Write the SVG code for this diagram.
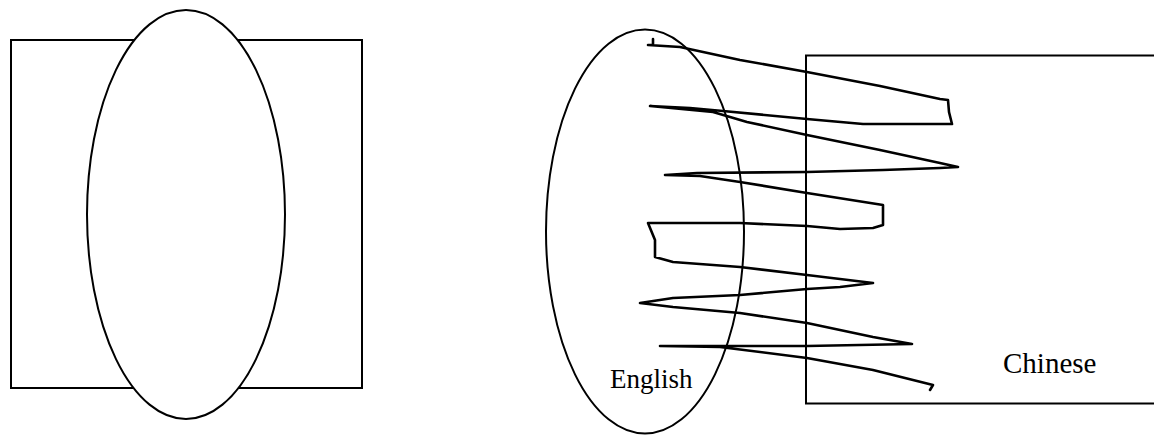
<svg xmlns="http://www.w3.org/2000/svg" width="1154" height="435" viewBox="0 0 1154 435">
<style>
.s{fill:#fff;stroke:#000;stroke-width:2}
.z{fill:none;stroke:#000;stroke-width:2.6;stroke-linejoin:round;stroke-linecap:round}
.t{font-family:"Liberation Serif",serif;fill:#000}
</style>
<rect width="1154" height="435" fill="#fff"/>
<g id="left-diagram">
<rect class="s" x="11" y="40" width="351" height="348"/>
<ellipse class="s" cx="186" cy="214.5" rx="99" ry="204.5"/>
</g>
<g id="chinese">
<rect class="s" x="806" y="55.5" width="360" height="348"/>
<text class="t" x="1003" y="373" font-size="29">Chinese</text>
</g>
<g id="english">
<ellipse class="s" cx="645" cy="231.5" rx="99" ry="202" fill="none" style="fill:none"/>
<text class="t" x="610" y="388" font-size="27">English</text>
</g>
<g id="connectors">
<path class="z" d="M653,39 L653,45 L648,45 L680,47 L740,60 L807,72 L880,86 L940,99 L948,100 L949,112 L952,124 L900,124 L863,124 L807,119 L723,111 L690,108 L650,106 L713,112 L747,122 L807,135 L880,150 L940,163 L958,167 L940,168 L883,170 L807,172 L697,173 L665,175 L700,176 L740,182 L807,193 L883,205 L883,225 L873,228 L840,229 L807,226 L740,223 L648,223 L655,240 L655,257 L673,262 L740,267 L807,275 L873,283 L840,287 L807,289 L740,295 L673,298 L640,303 L673,307 L740,313 L807,323 L873,337 L912,344 L807,346 L720,346 L660,346 L720,347 L807,358 L873,370 L933,385 L930,390"/>
</g>
</svg>
